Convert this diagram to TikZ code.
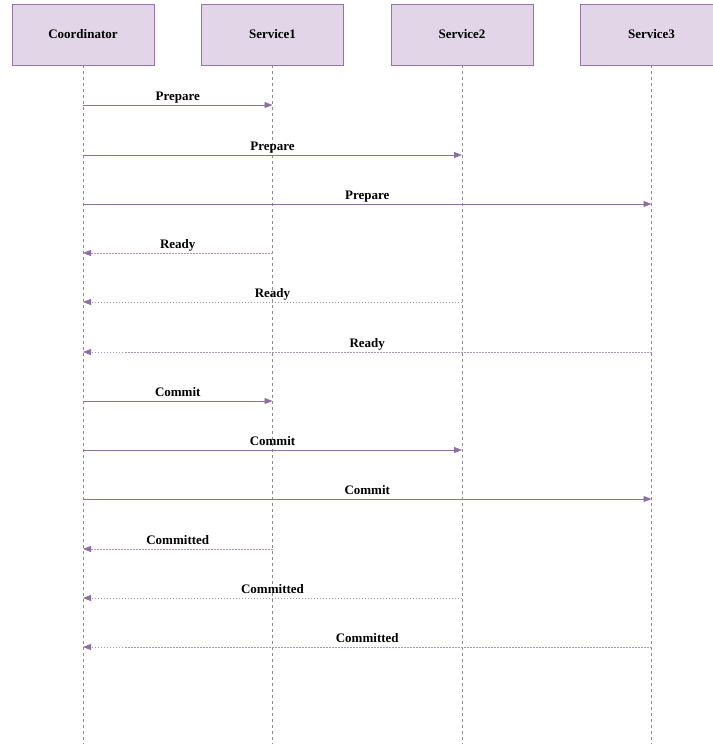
\documentclass[tikz,border=0pt]{standalone}
\usepackage{fontspec}
\setmainfont{Liberation Serif}
\usetikzlibrary{arrows.meta}
\definecolor{boxfill}{HTML}{E1D5E7}
\definecolor{boxline}{HTML}{9673A6}
\definecolor{msgcol}{HTML}{8E6FA2}
\definecolor{lifecol}{HTML}{8A8A8A}
\tikzset{
  actor/.style={draw=boxline, fill=boxfill, line width=0.8pt, minimum width=142pt, minimum height=61pt, inner sep=0pt, font=\fontsize{13}{15}\selectfont\bfseries},
  lifeline/.style={draw=lifecol, line width=0.6pt, dash pattern=on 3pt off 3pt},
  callmsg/.style={draw=msgcol, line width=0.9pt, -{Triangle[length=8pt,width=6pt]}},
  retmsg/.style={draw=msgcol!75, line width=0.8pt, dash pattern=on 1.5pt off 1.5pt, -{Triangle[length=8pt,width=6pt,fill=msgcol,color=msgcol]}},
  lbl/.style={midway, anchor=base, yshift=5pt, font=\fontsize{13}{15}\selectfont\bfseries, inner sep=0pt}
}
\begin{document}
\begin{tikzpicture}[x=1pt,y=-1pt]
\useasboundingbox (0,0) rectangle (712,744);
\node[actor] (C)  at (83,34.5)  {Coordinator};
\node[actor] (S1) at (272.5,34.5) {Service1};
\node[actor] (S2) at (462,34.5) {Service2};
\node[actor] (S3) at (651.5,34.5) {Service3};
\foreach \n in {C,S1,S2,S3}{
  \coordinate (\n end) at (\n |- 0,744);
  \draw[lifeline] (\n.south) -- (\n end);
}
\foreach \y/\a/\b/\t/\s in {105/C/S1/Prepare/callmsg, 155/C/S2/Prepare/callmsg, 204/C/S3/Prepare/callmsg,
  253/S1/C/Ready/retmsg, 302/S2/C/Ready/retmsg, 352/S3/C/Ready/retmsg,
  401/C/S1/Commit/callmsg, 450/C/S2/Commit/callmsg, 499/C/S3/Commit/callmsg,
  549/S1/C/Committed/retmsg, 598/S2/C/Committed/retmsg, 647/S3/C/Committed/retmsg}{
  \coordinate (m\y a) at (\a |- 0,\y);
  \coordinate (m\y b) at (\b |- 0,\y);
  \draw[\s] (m\y a) -- node[lbl]{\t} (m\y b);
}
\end{tikzpicture}
\end{document}
